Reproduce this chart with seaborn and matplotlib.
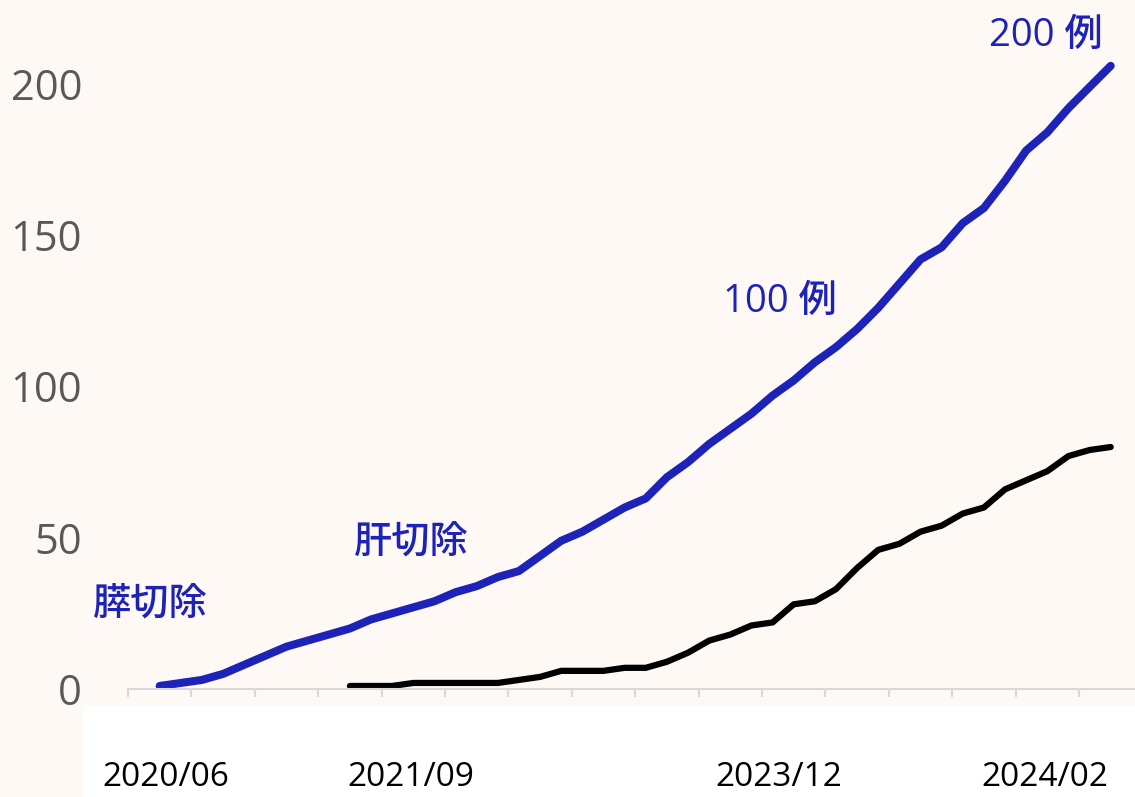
import matplotlib
matplotlib.use("Agg")
import matplotlib.pyplot as plt
import matplotlib.transforms as mtransforms
import seaborn as sns
import pandas as pd
import numpy as np

# ---- data ----
blue_x = list(range(1, 47))
blue_y = [1, 2, 3, 5, 8, 11, 14, 16, 18, 20, 23, 25, 27, 29, 32, 34, 37, 39,
          44, 49, 52, 56, 60, 63, 70, 75, 81, 86, 91, 97, 102, 108, 113, 119,
          126, 134, 142, 146, 154, 159, 168, 178, 184, 192, 199, 206]
black_x = list(range(10, 47))
black_y = [1, 1, 1, 2, 2, 2, 2, 2, 3, 4, 6, 6, 6, 7, 7, 9, 12, 16, 18, 21,
           22, 28, 29, 33, 40, 46, 48, 52, 54, 58, 60, 66, 69, 72, 77, 79, 80]
date_labels = ["2020/06", "2021/09", "2023/12", "2024/02"]
date_pos = [1.3, 12.9, 30.3, 42.9]
y_ticks = [0, 50, 100, 150, 200]
notes = ["膵切除", "肝切除", "100 例", "200 例"]
note_pos = [(0.54, 27.8), (12.9, 48.3), (30.35, 128), (42.95, 216)]

df_blue = pd.DataFrame({"x": blue_x, "y": blue_y})
df_black = pd.DataFrame({"x": black_x, "y": black_y})

sns.set_theme(style="white")
plt.rcParams["font.family"] = ["Open Sans", "Noto Sans CJK JP", "DejaVu Sans"]

BG = "#FEF9F5"
BLUE = "#1D22B9"

fig = plt.figure(figsize=(11.35, 7.97), dpi=100, facecolor=BG)
W, H = 1135, 797
y0 = 689
scale = 3.025
ymax = 225
ax = fig.add_axes([128 / W, (H - y0) / H, 1 - 128 / W, ymax * scale / H])
ax.set_facecolor(BG)

# white band at the bottom
fig.patches.append(plt.Rectangle((83 / W, 0), 1 - 83 / W, (797 - 705) / H,
                                 transform=fig.transFigure, facecolor="white",
                                 edgecolor="none", zorder=0))

sns.lineplot(data=df_blue, x="x", y="y", ax=ax, color=BLUE, linewidth=5.8,
             solid_capstyle="round", solid_joinstyle="round", clip_on=False)
sns.lineplot(data=df_black, x="x", y="y", ax=ax, color="black", linewidth=4.5,
             solid_capstyle="round", solid_joinstyle="round", clip_on=False)

ax.set_xlim(-0.5, 47.15)
ax.set_ylim(0, ymax)
for s in ["top", "right", "left"]:
    ax.spines[s].set_visible(False)
ax.spines["bottom"].set_color("#D9D9D9")
ax.spines["bottom"].set_linewidth(1.5)

ax.set_xticks(np.arange(-0.5, 47.5, 3))
ax.set_xticklabels([])
ax.tick_params(axis="x", direction="out", length=6, width=1.5, color="#D9D9D9",
               bottom=True)
ax.set_yticks(y_ticks)
ax.set_yticklabels([str(v) for v in y_ticks], fontsize=30, color="#595959")
ax.tick_params(axis="y", length=0, pad=33)
ax.set_xlabel("")
ax.set_ylabel("")

trans = mtransforms.blended_transform_factory(ax.transData, fig.transFigure)
for lab, p in zip(date_labels, date_pos):
    fig.text(p, (H - 778) / H, lab, transform=trans, ha="center", va="center",
             fontsize=24, color="black")

for t, (px, py) in zip(notes, note_pos):
    ax.text(px, py, t, ha="center", va="center", fontsize=27.5, color=BLUE,
            fontweight="medium")

fig.savefig("out.png", dpi=100, facecolor=BG)
